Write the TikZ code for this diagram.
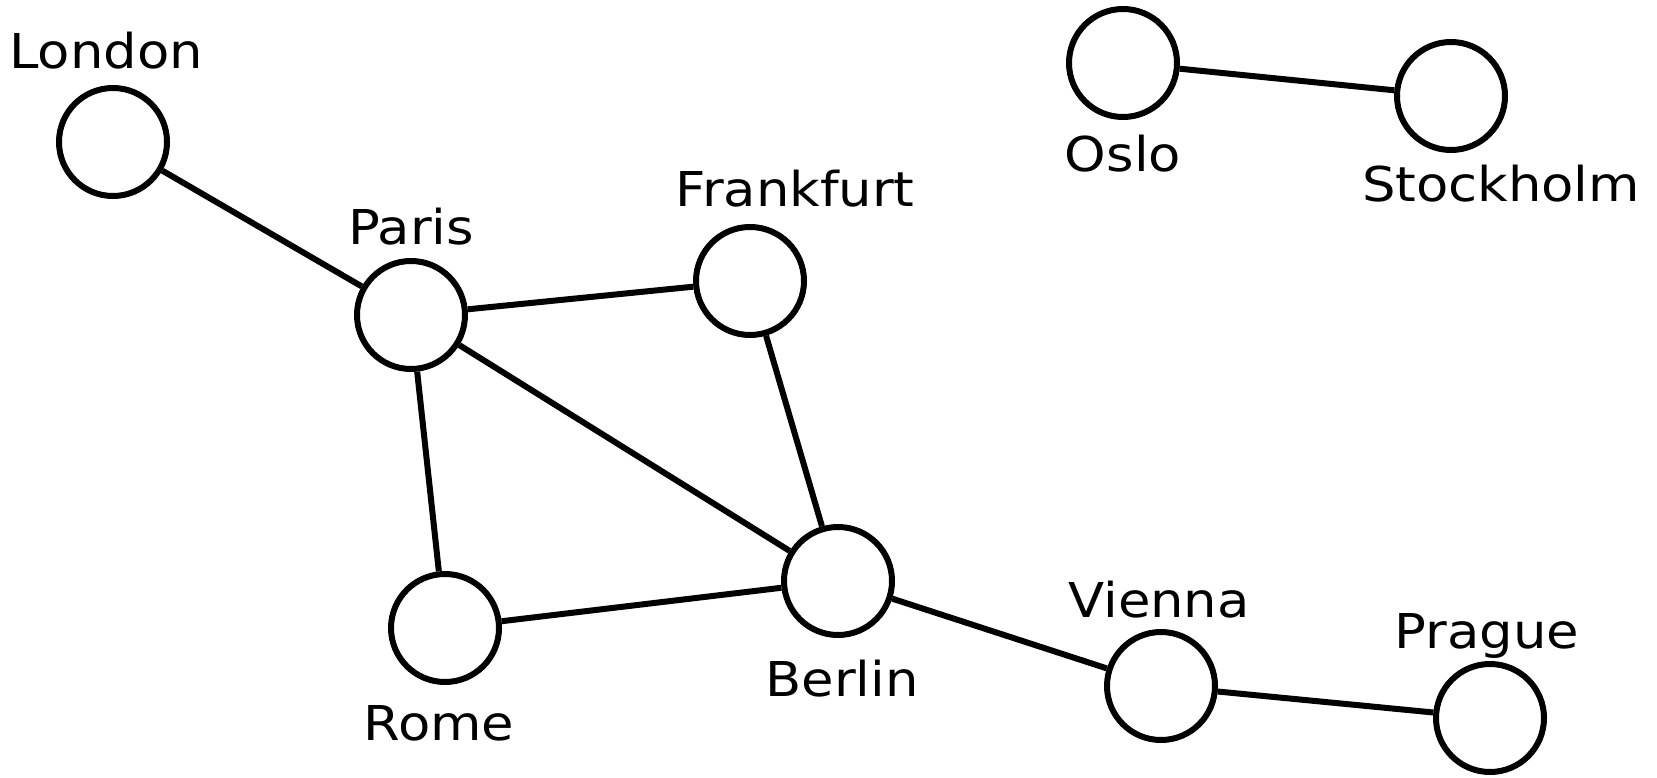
\documentclass[tikz,border=0pt]{standalone}
\usepackage{fontspec}
\setmainfont{DejaVu Sans}[FakeStretch=1.1]
\begin{document}
\begin{tikzpicture}[x=1pt,y=-1pt,
  city/.style={draw,circle,line width=6pt,inner sep=0pt,minimum size=108pt},
  lbl/.style={anchor=base,inner sep=0pt,font=\fontsize{48}{50}\selectfont},
  road/.style={line width=6pt}]
\useasboundingbox (0,0) rectangle (1657,778);
\node[city] (london) at (113,142) {};
\node[city] (paris) at (411,315) {};
\node[city] (frankfurt) at (750,281) {};
\node[city] (rome) at (445,628) {};
\node[city] (berlin) at (838,581) {};
\node[city] (vienna) at (1161,686) {};
\node[city] (prague) at (1490,718) {};
\node[city] (oslo) at (1123,63) {};
\node[city] (stockholm) at (1451,96) {};
\node[lbl] (tlondon) at (106,69) {London};
\node[lbl] (tparis) at (411,244) {Paris};
\node[lbl] (tfrankfurt) at (795,207) {Frankfurt};
\node[lbl] (trome) at (439,740) {Rome};
\node[lbl] (tberlin) at (842,696) {Berlin};
\node[lbl] (tvienna) at (1159,617) {Vienna};
\node[lbl] (tprague) at (1487,648) {Prague};
\node[lbl] (toslo) at (1123,172) {Oslo};
\node[lbl] (tstockholm) at (1501,202) {Stockholm};
\draw[road] (london) -- (paris);
\draw[road] (paris) -- (frankfurt);
\draw[road] (paris) -- (rome);
\draw[road] (paris) -- (berlin);
\draw[road] (frankfurt) -- (berlin);
\draw[road] (rome) -- (berlin);
\draw[road] (berlin) -- (vienna);
\draw[road] (vienna) -- (prague);
\draw[road] (oslo) -- (stockholm);
\end{tikzpicture}
\end{document}
